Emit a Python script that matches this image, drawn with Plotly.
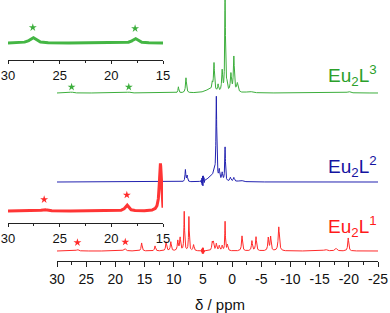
import numpy as np
import plotly.graph_objects as go

# ---------------- data ----------------
# main axis ticks
main_ticks = [30, 25, 20, 15, 10, 5, 0, -5, -10, -15, -20, -25]
main_ticktext = ["30", "25", "20", "15", "10", "5", "0", "-5", "-10", "-15", "-20", "-25"]
inset_ticks = [30, 25, 20, 15]
inset_ticktext = ["30", "25", "20", "15"]

# peaks: ppm, height (arb.), half width (ppm)
l3_ppm = [27.5, 17.7, 9.2, 7.9, 4.0, 3.4, 3.1, 2.4, 1.7, 1.2, 0.9, 0.2, -0.3, -0.9, -3.0, -20.0]
l3_int = [1.0, 1.0, 6, 15, 3, 7, 28, 7, 21, 95, 8, 18, 35, 9, 1.5, 1.5]
l3_wid = [0.3, 0.3, 0.08, 0.1, 0.8, 0.1, 0.1, 0.1, 0.1, 0.07, 0.1, 0.12, 0.1, 0.15, 0.5, 0.3]

l2_ppm = [8.0, 7.7, 3.8, 3.1, 2.7, 2.2, 1.7, 1.2, 0.3, -0.3, -1.5]
l2_int = [12, 6, 4, 8, 82, 10, 8, 34, 4, 4, 1.5]
l2_wid = [0.08, 0.08, 0.6, 0.25, 0.08, 0.1, 0.1, 0.07, 0.12, 0.12, 0.4]

l1_ppm = [26.5, 18.4, 15.5, 13.2, 11.3, 10.5, 9.3, 8.9, 8.2, 7.4, 6.6, 3.4, 3.2, 2.7, 2.2, 1.7,
          1.2, 0.8, -1.7, -3.4, -4.1, -6.2, -6.6, -8.0, -16.0, -17.8, -19.9]
l1_int = [1.5, 2.5, 8, 5, 9, 9, 10, 13, 39, 34, 6, 8, 8, 7, 5, 5,
          29, 6, 15, 10, 14, 13, 14, 24, 1.5, 2.5, 13]
l1_wid = [0.2, 0.2, 0.1, 0.1, 0.1, 0.1, 0.1, 0.1, 0.07, 0.07, 0.1, 0.1, 0.1, 0.1, 0.1, 0.1,
          0.06, 0.1, 0.1, 0.1, 0.1, 0.1, 0.1, 0.12, 0.3, 0.2, 0.1]

# water-suppression artefacts (ppm, signed intensity)
burst_ppm = [4.7, 4.76, 4.82, 4.88, 4.94, 5.0, 5.06, 5.12, 5.18, 5.24, 5.3]
burst_l2 = [1, -2, 3, -4, 5, -5, 5, -4, 3, -2, 1]
burst_l1 = [0.5, -1, 2, -2.5, 3, -3, 3, -2.5, 2, -1, 0.5]

# inset spectra (expanded 30..15 ppm)
in3_ppm = [27.6, 17.7]
in3_int = [5.5, 4.5]
in3_wid = [0.35, 0.3]

in1_ppm = [26.5, 18.5, 15.25, 14.98]
in1_int = [1.5, 6, 48, -6]
in1_wid = [0.3, 0.2, 0.12, 0.08]

# star marks (ppm)
stars_main_l3 = [27.5, 17.7]
stars_main_l1 = [26.5, 18.3]
stars_in3 = [27.6, 17.7]
stars_in1 = [26.5, 18.5]

# ---------------- style / layout ----------------
W, H = 390, 313
GREEN, GREEN_T = "#3cae3c", "#2ba02b"
GREEN_IN = "#44b644"
BLUE, BLUE_T = "#2222b0", "#1414a0"
RED, RED_T = "#ff2a2a", "#ff1a1a"
RED_IN = "#ff3535"

def lorentz(x, pos, amp, wid):
    y = np.zeros_like(x)
    for p, a, w in zip(pos, amp, wid):
        y += a * w ** 2 / ((x - p) ** 2 + w ** 2)
    return y

def add_burst(x, y, bp, bi):
    y = y.copy()
    for p, v in zip(bp, bi):
        i = int(np.argmin(np.abs(x - p)))
        y[i] += v
    return y

x_main = np.round(np.arange(30, -25.001, -0.01), 3)
x_in = np.round(np.arange(30, 14.999, -0.01), 3)

# baselines (plot units = pixels from bottom)
base3, base2, base1 = H - 93, H - 182, H - 251
base_in3, base_in1 = H - 43, H - 211

s3 = base3 + lorentz(x_main, l3_ppm, l3_int, l3_wid)
s2 = add_burst(x_main, base2 + lorentz(x_main, l2_ppm, l2_int, l2_wid), burst_ppm, burst_l2)
s1 = add_burst(x_main, base1 + lorentz(x_main, l1_ppm, l1_int, l1_wid), burst_ppm, burst_l1)
i3 = base_in3 + lorentz(x_in, in3_ppm, in3_int, in3_wid)
i1 = base_in1 + lorentz(x_in, in1_ppm, in1_int, in1_wid)

def star_y(xs, arr, xgrid, off):
    return [arr[int(np.argmin(np.abs(xgrid - p)))] + off for p in xs]

fig = go.Figure()
fig.add_trace(go.Scatter(x=x_main, y=s3, mode="lines", line=dict(color=GREEN, width=1), xaxis="x", yaxis="y"))
fig.add_trace(go.Scatter(x=x_main, y=s2, mode="lines", line=dict(color=BLUE, width=1), xaxis="x", yaxis="y"))
fig.add_trace(go.Scatter(x=x_main, y=s1, mode="lines", line=dict(color=RED, width=1), xaxis="x", yaxis="y"))
fig.add_trace(go.Scatter(x=x_in, y=i3, mode="lines", line=dict(color=GREEN_IN, width=3), xaxis="x2", yaxis="y"))
fig.add_trace(go.Scatter(x=x_in, y=i1, mode="lines", line=dict(color=RED_IN, width=3), xaxis="x3", yaxis="y"))

star_style = dict(symbol="star", size=6, line=dict(width=0))
fig.add_trace(go.Scatter(x=stars_main_l3, y=star_y(stars_main_l3, s3, x_main, 5), mode="markers",
                         marker=dict(color=GREEN, **star_style), xaxis="x", yaxis="y"))
fig.add_trace(go.Scatter(x=stars_main_l1, y=star_y(stars_main_l1, s1, x_main, 7), mode="markers",
                         marker=dict(color=RED, **star_style), xaxis="x", yaxis="y"))
fig.add_trace(go.Scatter(x=stars_in3, y=star_y(stars_in3, i3, x_in, 10), mode="markers",
                         marker=dict(color=GREEN, **star_style), xaxis="x2", yaxis="y"))
fig.add_trace(go.Scatter(x=stars_in1, y=star_y(stars_in1, i1, x_in, 10), mode="markers",
                         marker=dict(color=RED, **star_style), xaxis="x3", yaxis="y"))

FONT = "Liberation Sans, Arial, sans-serif"
AX = "#222222"

def xaxis_style(rng, dom, pos, tv, tt, fs, tl, mtl):
    return dict(range=rng, domain=dom, anchor="free", position=pos,
                showline=True, linecolor=AX, linewidth=1, ticks="outside", ticklen=tl,
                tickcolor=AX, tickwidth=1, tickvals=tv, ticktext=tt,
                tickfont=dict(family=FONT, size=fs, color="#111111"),
                minor=dict(ticks="outside", dtick=2.5, tick0=0, ticklen=mtl, tickcolor=AX),
                showgrid=False, zeroline=False, fixedrange=True)

fig.update_layout(
    width=W, height=H, margin=dict(l=0, r=0, t=0, b=0, autoexpand=False),
    paper_bgcolor="white", plot_bgcolor="rgba(0,0,0,0)", showlegend=False,
    xaxis=xaxis_style([30, -25], [57 / W, 378 / W], 1 - 261 / H, main_ticks, main_ticktext, 14, 5, 3),
    xaxis2=xaxis_style([30, 15], [8 / W, 163 / W], 1 - 60 / H, inset_ticks, inset_ticktext, 13, 3, 2),
    xaxis3=xaxis_style([30, 15], [8 / W, 163 / W], 1 - 223 / H, inset_ticks, inset_ticktext, 13, 3, 2),
    yaxis=dict(range=[0, H], domain=[0, 1], visible=False, fixedrange=True),
)

labels = [("Eu<sub>2</sub>L<sup>3</sup>", GREEN_T, 75),
          ("Eu<sub>2</sub>L<sup>2</sup>", BLUE_T, 166),
          ("Eu<sub>2</sub>L<sup>1</sup>", RED_T, 226)]
for txt, col, yc in labels:
    fig.add_annotation(text=txt, x=326 / W, y=1 - yc / H, xref="paper", yref="paper",
                       xanchor="left", yanchor="middle", showarrow=False,
                       font=dict(family=FONT, size=19, color=col))

fig.add_annotation(text="δ / ppm", x=220 / W, y=1 - 304 / H, xref="paper", yref="paper",
                   xanchor="center", yanchor="middle", showarrow=False,
                   font=dict(family=FONT, size=15, color="#111111"))

fig.write_html("out.html", config={"displayModeBar": False},
               post_script="document.body.style.margin='0';document.body.style.overflow='hidden';")
